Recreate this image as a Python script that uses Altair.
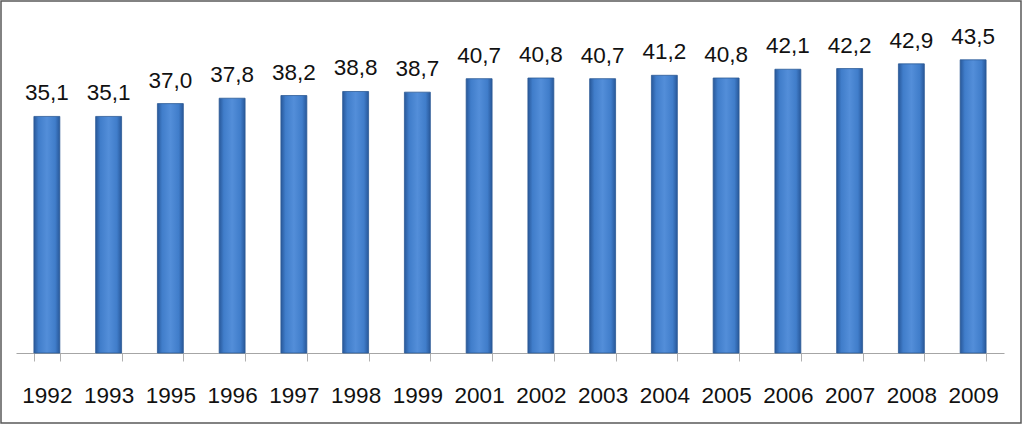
import altair as alt
import pandas as pd

years = ["1992", "1993", "1995", "1996", "1997", "1998", "1999", "2001",
         "2002", "2003", "2004", "2005", "2006", "2007", "2008", "2009"]
values = [35.1, 35.1, 37.0, 37.8, 38.2, 38.8, 38.7, 40.7,
          40.8, 40.7, 41.2, 40.8, 42.1, 42.2, 42.9, 43.5]
labels = [f"{v:.1f}".replace(".", ",") for v in values]

df = pd.DataFrame({"year": years, "value": values, "label": labels})

W, H = 988, 337
PL, PT, PR, PB = 16, 16, 19, 72

xenc = alt.X("year:N", sort=years, title=None,
             scale=alt.Scale(paddingInner=0.58, paddingOuter=0.29),
             axis=alt.Axis(labelAngle=0, labelFont="Liberation Sans", labelFontSize=22.5,
                           labelColor="#111111", labelPadding=23, tickSize=8,
                           tickColor="#b0b0b0", domainColor="#a6a6a6", tickBand="extent",
                           labelBaseline="top"))
yenc = alt.Y("value:Q", scale=alt.Scale(domain=[0, 50], nice=False), axis=None)

grad = alt.Gradient(
    gradient="linear", x1=0, x2=1, y1=0, y2=0,
    stops=[alt.GradientStop(color="#28589a", offset=0),
           alt.GradientStop(color="#407dca", offset=0.18),
           alt.GradientStop(color="#538ed9", offset=0.5),
           alt.GradientStop(color="#407dca", offset=0.82),
           alt.GradientStop(color="#28589a", offset=1)])

bars = alt.Chart(df).mark_bar(fill=grad, stroke="#2c5a96", strokeWidth=0.8).encode(x=xenc, y=yenc)

text = alt.Chart(df).mark_text(baseline="bottom", dy=-11, font="Liberation Sans",
                               fontSize=22.5, color="#111111").encode(
    x=alt.X("year:N", sort=years), y="value:Q", text="label:N")

border = alt.Chart(pd.DataFrame({"a": [0]})).mark_rect(
    fill=None, stroke="#595959", strokeWidth=1.5).encode(
    x=alt.value(-PL + 1), x2=alt.value(W + PR - 2),
    y=alt.value(-PT + 1), y2=alt.value(H + PB - 2))

chart = alt.layer(bars, text, border).properties(
    width=W, height=H,
    padding={"left": PL, "top": PT, "right": PR, "bottom": PB},
    autosize=alt.AutoSizeParams(type="none"),
    background="white"
).configure_view(stroke=None)

chart.save("out.html", embed_options={"renderer": "svg", "actions": False})
